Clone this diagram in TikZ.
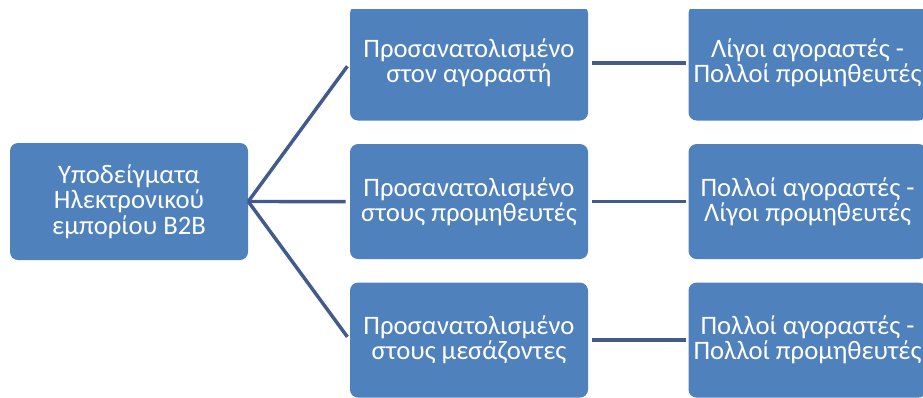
\documentclass[tikz,border=0pt]{standalone}
\usepackage{fontspec}
\setmainfont{Carlito}
\usepackage{xcolor}
\usetikzlibrary{positioning}
\definecolor{boxblue}{RGB}{79,129,189}
\definecolor{linkblue}{RGB}{66,90,140}

\begin{document}
\begin{tikzpicture}[x=0.75pt,y=-0.75pt,
  blockbox/.style={rectangle, rounded corners=6pt, fill=boxblue, text=white,
    minimum width=178.5pt, minimum height=86.25pt, align=center,
    font=\fontsize{20}{19}\selectfont},
  link/.style={draw=linkblue, line width=2.6pt}]
\useasboundingbox (0,0) rectangle (923,397);
 \begin{scope}
\clip (0,9) rectangle (923,397);
\node (b2b-model) [blockbox, minimum height=87.75pt] at (129,201.5)
    {Υποδείγματα\\Ηλεκτρονικού\\εμπορίου B2B};

\node (buyer-side) [blockbox] at (469,63) {Προσανατολισμένο\\στον αγοραστή};
\node (seller-side) [blockbox, below=17.25pt of buyer-side]
    {Προσανατολισμένο\\στους προμηθευτές};
\node (broker-side) [blockbox, below=17.25pt of seller-side]
    {Προσανατολισμένο\\στους μεσάζοντες};

\node (buyer-market) [blockbox, right=75pt of buyer-side]
    {Λίγοι αγοραστές -\\Πολλοί προμηθευτές};
\node (seller-market) [blockbox, right=75pt of seller-side]
    {Πολλοί αγοραστές -\\Λίγοι προμηθευτές};
\node (broker-market) [blockbox, right=75pt of broker-side]
    {Πολλοί αγοραστές -\\Πολλοί προμηθευτές};

\draw[link, shorten >=3pt] (b2b-model.east) -- (buyer-side.west);
\draw[link, shorten >=3pt] (b2b-model.east) -- (seller-side.west);
\draw[link, shorten >=3pt] (b2b-model.east) -- (broker-side.west);

\draw[link, shorten <=3pt, shorten >=2pt] (buyer-side) -- (buyer-market);
\draw[link, shorten <=3pt, shorten >=2pt] (seller-side) -- (seller-market);
\draw[link, shorten <=3pt, shorten >=2pt] (broker-side) -- (broker-market);
\end{scope}
\end{tikzpicture}
\end{document}
